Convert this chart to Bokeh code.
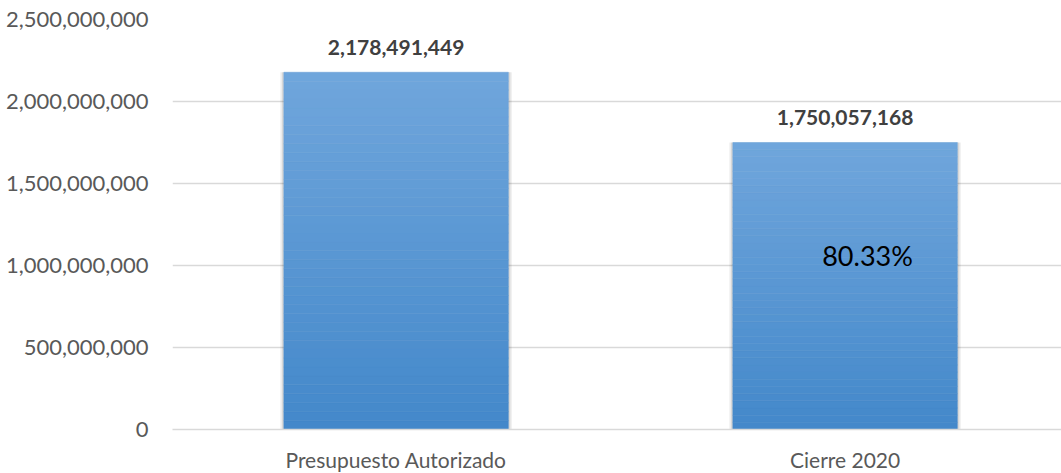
import numpy as np
from bokeh.plotting import figure
from bokeh.models import (Range1d, FixedTicker, NumeralTickFormatter, ColumnDataSource,
                          LabelSet, Label)
from bokeh.core.properties import value
from bokeh.embed import file_html
from bokeh.resources import INLINE

categories = ["Presupuesto Autorizado", "Cierre 2020"]
values = [2178491449, 1750057168]
y_ticks = [0, 500000000, 1000000000, 1500000000, 2000000000, 2500000000]

FONT = "Lato"
xs = list(range(len(categories)))
pct_text = f"{values[1] / values[0] * 100:.2f}%"

p = figure(frame_width=889, frame_height=410, output_backend="svg", toolbar_location=None,
           x_range=Range1d(-0.498, 1.482), y_range=Range1d(0, 2500000000),
           min_border_left=172, min_border_right=0, min_border_top=19, min_border_bottom=44)
p.outline_line_color = None
p.background_fill_color = "white"

# soft shadow behind bars
shadow_src = ColumnDataSource(dict(x=xs, top=values))
for w, a in [(0.516, 0.06), (0.509, 0.10)]:
    p.vbar(x="x", top="top", bottom=-12000000, width=w, source=shadow_src,
           fill_color="#000000", fill_alpha=a, line_color=None)

# gradient bars: slices from top (light) to bottom (dark)
N = 40
top_c = np.array([112, 166, 220])
bot_c = np.array([67, 136, 202])
for k in range(N):
    f0, f1 = k / N, (k + 1) / N
    c = bot_c + (top_c - bot_c) * (k + 0.5) / N
    col = "#%02x%02x%02x" % tuple(int(round(v)) for v in c)
    src = ColumnDataSource(dict(x=xs, bottom=[v * f0 for v in values], top=[v * f1 for v in values]))
    p.vbar(x="x", bottom="bottom", top="top", width=0.5, source=src,
           fill_color=col, line_color=col, line_width=0.5)

lab_src = ColumnDataSource(dict(x=xs, y=values, text=[f"{v:,}" for v in values]))
p.add_layout(LabelSet(x="x", y="y", text="text", source=lab_src, y_offset=25,
                      text_align="center", text_baseline="middle",
                      text_font=value(FONT), text_font_size="21px", text_font_style="bold",
                      text_color="#404040"))

p.add_layout(Label(x=1.05, y=1.06e9, text=pct_text, text_align="center",
                   text_baseline="middle", text_font=FONT, text_font_size="27px",
                   text_color="#000000"))

p.xaxis.ticker = FixedTicker(ticks=xs)
p.xaxis.major_label_overrides = {i: c for i, c in enumerate(categories)}
p.xaxis.major_tick_line_color = None
p.xaxis.minor_tick_line_color = None
p.xaxis.axis_line_color = "#D9D9D9"
p.xaxis.axis_line_width = 1.5
p.xaxis.major_label_standoff = 11
p.xaxis.major_label_text_font = FONT
p.xaxis.major_label_text_font_size = "21px"
p.xaxis.major_label_text_color = "#595959"
p.xgrid.grid_line_color = None

p.yaxis.ticker = FixedTicker(ticks=y_ticks)
p.yaxis.formatter = NumeralTickFormatter(format="0,0")
p.yaxis.axis_line_color = None
p.yaxis.major_tick_line_color = None
p.yaxis.minor_tick_line_color = None
p.yaxis.major_label_standoff = 18
p.yaxis.major_label_text_font = FONT
p.yaxis.major_label_text_font_size = "22px"
p.yaxis.major_label_text_color = "#595959"
p.ygrid.ticker = FixedTicker(ticks=y_ticks)
p.ygrid.grid_line_color = "#D9D9D9"
p.ygrid.grid_line_width = 1.5

open("out.html", "w").write(file_html(p, INLINE))
